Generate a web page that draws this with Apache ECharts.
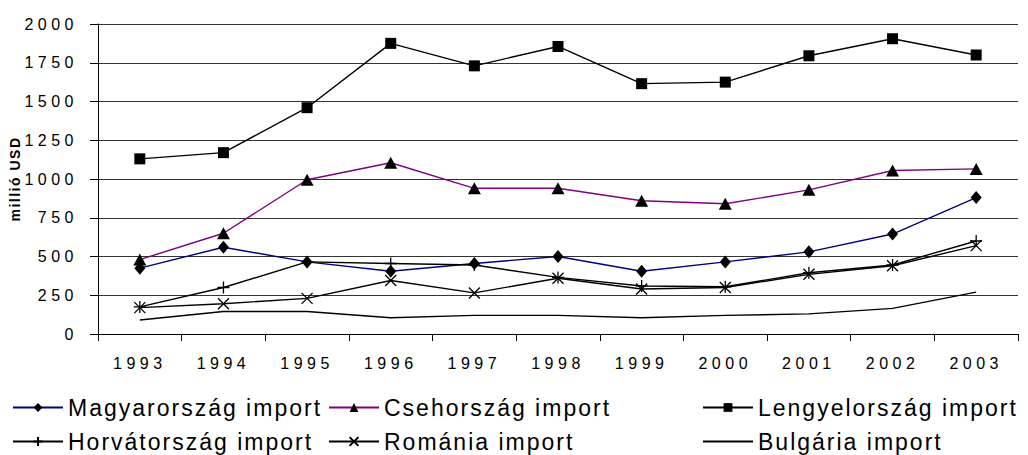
<!DOCTYPE html>
<html>
<head>
<meta charset="utf-8">
<script src="https://cdn.jsdelivr.net/npm/echarts@6/dist/echarts.min.js"></script>
<style>
html, body { margin: 0; padding: 0; background: #fff; }
#chart { width: 1028px; height: 455px; }
/* the original chart has spaced-out lettering */
#chart text[style*="16px"] { letter-spacing: 4.5px; }
#chart text[style*="23px"] { letter-spacing: 2px; }
#chart text[style*="14px"] { letter-spacing: 1.5px; }
</style>
</head>
<body>
<div id="chart"></div>
<script>
const years = ['1993', '1994', '1995', '1996', '1997', '1998', '1999', '2000', '2001', '2002', '2003']
const yTicks = [0, 250, 500, 750, 1000, 1250, 1500, 1750, 2000]

const magyarorszag = [425, 560, 465, 405, 455, 500, 405, 465, 530, 645, 880]
const csehorszag = [480, 650, 995, 1105, 940, 940, 860, 840, 930, 1055, 1065]
const lengyelorszag = [1130, 1170, 1460, 1875, 1730, 1855, 1615, 1625, 1795, 1905, 1800]
const horvatorszag = [175, 300, 465, 455, 445, 365, 310, 305, 395, 445, 600]
const romania = [170, 195, 230, 345, 265, 360, 290, 300, 385, 440, 570]
const bulgaria = [90, 145, 145, 105, 120, 120, 105, 120, 130, 165, 270]

const plusPath = 'path://M5,0L5,10M0,5L10,5'
const crossPath = 'path://M0,0L10,10M10,0L0,10'

function makeSeries(name, data, lineColor, symbol, size, outline) {
    let s = {
        name: name,
        type: 'line',
        data: data,
        symbol: symbol,
        symbolSize: size,
        showSymbol: symbol !== 'none',
        lineStyle: { color: lineColor, width: 1.4 },
        itemStyle: { color: '#000' },
        emphasis: { disabled: true }
    }
    if (outline) {
        s.itemStyle = { color: 'rgba(0,0,0,0)', borderColor: '#000', borderWidth: 1.3 }
    }
    return s
}

function legendAt(name, left, top, noMarker) {
    let item = { name: name }
    if (noMarker) {
        // plain line in the legend, no marker
        item.itemStyle = { opacity: 0 }
    }
    return {
        data: [item],
        left: left,
        top: top,
        padding: 0,
        itemWidth: 50,
        itemHeight: 11,
        selectedMode: false,
        textStyle: { fontSize: 23, fontFamily: 'Liberation Sans', color: '#000' }
    }
}

const chart = echarts.init(document.getElementById('chart'), null, { renderer: 'svg' })

chart.setOption({
    animation: false,
    backgroundColor: '#fff',
    legend: [
        legendAt('Magyarország import', 12, 396),
        legendAt('Csehország import', 328, 396),
        legendAt('Lengyelország import', 702, 396),
        legendAt('Horvátország import', 12, 430),
        legendAt('Románia import', 328, 430),
        legendAt('Bulgária import', 702, 430, true)
    ],
    grid: {
        left: 98,
        right: 10,
        top: 24,
        bottom: 121
    },
    xAxis: {
        type: 'category',
        data: years,
        boundaryGap: true,
        axisLine: { lineStyle: { color: '#000', width: 1 } },
        axisTick: { show: true, length: 7, lineStyle: { color: '#000' } },
        axisLabel: {
            fontSize: 16,
            fontFamily: 'Liberation Sans',
            color: '#000',
            margin: 21
        }
    },
    yAxis: {
        type: 'value',
        min: yTicks[0],
        max: yTicks[yTicks.length - 1],
        interval: 250,
        name: 'millió USD',
        nameLocation: 'middle',
        nameGap: 76,
        nameTextStyle: {
            fontSize: 14,
            fontWeight: 'bold',
            fontFamily: 'Liberation Sans',
            color: '#000'
        },
        axisLine: { show: true, lineStyle: { color: '#000', width: 1 } },
        axisTick: { show: true, length: 8, lineStyle: { color: '#000' } },
        splitLine: { lineStyle: { color: '#333', width: 1 } },
        axisLabel: {
            fontSize: 16,
            fontFamily: 'Liberation Sans',
            color: '#000',
            margin: 20,
            formatter: function (v) { return String(v) }
        }
    },
    series: [
        makeSeries('Magyarország import', magyarorszag, '#000080', 'diamond', [11, 13], false),
        makeSeries('Csehország import', csehorszag, '#800080', 'triangle', [13, 12], false),
        makeSeries('Lengyelország import', lengyelorszag, '#000', 'rect', 11, false),
        makeSeries('Horvátország import', horvatorszag, '#000', plusPath, 12, true),
        makeSeries('Románia import', romania, '#000', crossPath, 11, true),
        makeSeries('Bulgária import', bulgaria, '#000', 'none', 0, false)
    ]
})
</script>
</body>
</html>
